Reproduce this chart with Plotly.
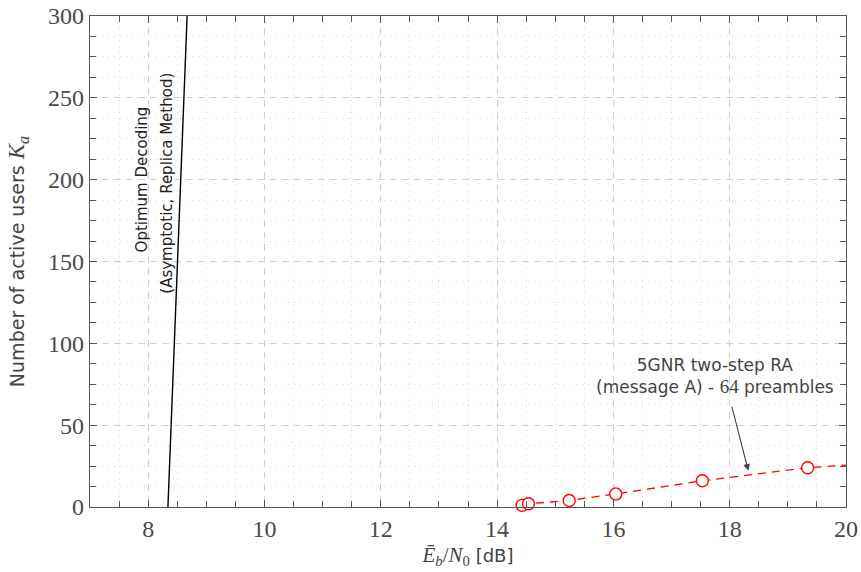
import plotly.graph_objects as go

# Optimum decoding limit (asymptotic, replica method)
opt_ebn0 = [8.34, 8.45, 8.55, 8.67]
opt_ka = [0, 100, 200, 300]

# 5GNR two-step random access (message A), 64 preambles
nr_ebn0 = [14.43, 14.54, 15.24, 16.04, 17.53, 19.34]
nr_ka = [1, 2, 4, 8, 16, 24]
# dashed curve continues to the right edge of the axes
nr_line_ebn0 = nr_ebn0 + [20.0]
nr_line_ka = nr_ka + [25.6]

x_ticks = [8, 10, 12, 14, 16, 18, 20]
y_ticks = [0, 50, 100, 150, 200, 250, 300]

SERIF = "Liberation Serif, DejaVu Serif, serif"
SANS = "DejaVu Sans, Liberation Sans, sans-serif"
AXIS_COL = "#555555"
TICK_COL = "#4a4a4a"

fig = go.Figure()

fig.add_trace(go.Scatter(
    x=opt_ebn0, y=opt_ka, mode="lines",
    line=dict(color="black", width=1.4),
    showlegend=False, hoverinfo="skip",
))

fig.add_trace(go.Scatter(
    x=nr_line_ebn0, y=nr_line_ka, mode="lines",
    line=dict(color="red", width=1.3, dash="8px,6px"),
    showlegend=False, hoverinfo="skip",
))

fig.add_trace(go.Scatter(
    x=nr_ebn0, y=nr_ka, mode="markers",
    marker=dict(symbol="circle", size=12, color="white",
                line=dict(color="red", width=1.4)),
    cliponaxis=False,
    showlegend=False,
))

axis_common = dict(
    showline=True, linecolor=AXIS_COL, linewidth=1.3, mirror="allticks",
    ticks="inside", ticklen=7, tickwidth=1, tickcolor=AXIS_COL,
    showgrid=True, gridcolor="#d0d0d0", gridwidth=1, griddash="6px,6px",
    zeroline=False, automargin=False,
    tickfont=dict(family=SERIF, size=24, color=TICK_COL),
)

fig.update_xaxes(
    range=[7, 20], tickvals=x_ticks,
    minor=dict(dtick=0.5, ticks="inside", ticklen=6, tickcolor=AXIS_COL,
               showgrid=True, gridcolor="#d8d8d8", griddash="1px,5px", gridwidth=1),
    title=dict(
        text=("<span style='font-family:Liberation Serif;font-style:italic;font-size:21px'>E&#772;"
              "<sub>b</sub></span><span style='font-family:Liberation Serif;font-size:21px'>/</span>"
              "<span style='font-family:Liberation Serif;font-style:italic;font-size:21px'>N</span>"
              "<span style='font-family:Liberation Serif;font-size:21px'><sub>0</sub></span> [dB]"),
        font=dict(family=SANS, size=18, color="#444444"), standoff=8,
    ),
    **axis_common,
)

fig.update_yaxes(
    range=[0, 300], tickvals=y_ticks,
    minor=dict(dtick=12.5, ticks="inside", ticklen=6, tickcolor=AXIS_COL,
               showgrid=True, gridcolor="#d8d8d8", griddash="1px,5px", gridwidth=1),
    title=dict(
        text=("Number of active users "
              "<span style='font-family:Liberation Serif;font-style:italic;font-size:23px'>K<sub>a</sub></span>"),
        font=dict(family=SANS, size=19, color="#444444"), standoff=18,
    ),
    **axis_common,
)

fig.add_annotation(
    x=7.89, y=200, text="Optimum Decoding", textangle=-90, showarrow=False,
    font=dict(family=SANS, size=15, color="#222222"),
)
fig.add_annotation(
    x=8.32, y=198, text="(Asymptotic, Replica Method)", textangle=-90, showarrow=False,
    font=dict(family=SANS, size=15, color="#222222"),
)

fig.add_annotation(
    x=17.74, y=80,
    text=("5GNR two-step RA<br>(message A) - "
          "<span style='font-family:Liberation Serif;font-size:19px'>64</span> preambles"),
    showarrow=False, align="center",
    font=dict(family=SANS, size=17, color="#444444"),
)
fig.add_annotation(
    x=18.32, y=22.2, ax=18.03, ay=62.3, axref="x", ayref="y",
    text="", showarrow=True, arrowhead=2, arrowsize=1.2, arrowwidth=1.1,
    arrowcolor="#444444",
)

fig.update_layout(
    width=861, height=572,
    margin=dict(l=90, r=15, t=16, b=65, autoexpand=False),
    plot_bgcolor="white", paper_bgcolor="white",
)

fig.write_html("out.html")
